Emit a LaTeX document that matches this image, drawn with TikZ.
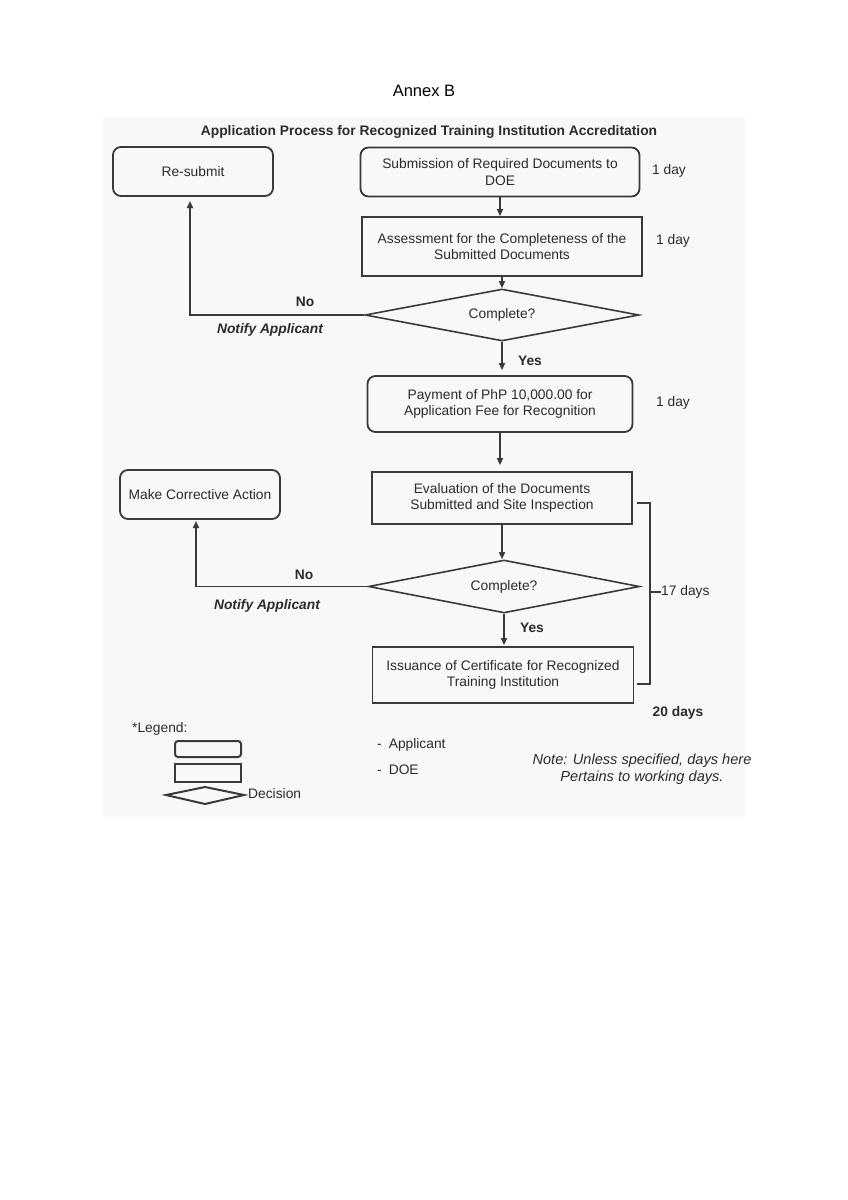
\documentclass[tikz,border=0pt]{standalone}
\usepackage{fontspec}
\setmainfont{Liberation Sans}
\usetikzlibrary{shapes.geometric,arrows.meta}
\definecolor{ink}{HTML}{2B2B2B}
\definecolor{edge}{HTML}{3A3A3A}
\definecolor{scan}{HTML}{F8F8F8}
\tikzset{
  base/.style={text=ink, align=center, font=\fontsize{13.8}{16.5}\selectfont},
  rbox/.style={base, draw=edge, line width=1.8pt, rounded corners=8pt, inner sep=0pt},
  sbox/.style={base, draw=edge, line width=1.8pt, inner sep=0pt},
  dec/.style={draw=edge, line width=1.6pt, diamond, inner sep=0pt},
  arr/.style={draw=edge, line width=1.4pt, -{Triangle[length=7pt,width=6pt]}},
  line/.style={draw=edge, line width=1.6pt},
  bl/.style={base, font=\fontsize{13.8}{16.5}\selectfont\bfseries},
  bi/.style={base, font=\fontsize{13.8}{16.5}\selectfont\bfseries\itshape},
  it/.style={base, font=\fontsize{14.6}{16.5}\selectfont\itshape},
}
\begin{document}
\begin{tikzpicture}[x=1pt,y=-1pt]
\useasboundingbox (0,0) rectangle (848,1200);
\fill[white] (0,0) rectangle (848,1200);
\fill[scan] (103,117) rectangle (745,817);

\node[base, font=\fontsize{16.5}{19}\selectfont, text=black] (annex) at (424,91) {Annex B};
\node[bl] (title) at (429,132) {Application Process for Recognized Training Institution Accreditation};

% boxes
\node[rbox, minimum width=160pt, minimum height=49pt] (resubmit) at (193,171.5) {Re-submit};
\node[rbox, minimum width=279pt, minimum height=49pt] (submit) at (500,172) {Submission of Required Documents to\\DOE};
\node[sbox, minimum width=280pt, minimum height=59pt] (assess) at (502,246.5) {Assessment for the Completeness of the\\Submitted Documents};
\node[dec, minimum width=274pt, minimum height=52pt] (dec1) at (502,315) {};
\node[base] (dec1t) at (dec1.center) {Complete?};
\node[rbox, minimum width=265pt, minimum height=56pt] (pay) at (500,404) {Payment of PhP 10,000.00 for\\Application Fee for Recognition};
\node[sbox, minimum width=260pt, minimum height=52pt] (eval) at (502,498) {Evaluation of the Documents\\Submitted and Site Inspection};
\node[rbox, minimum width=160pt, minimum height=49pt] (correct) at (200,494.5) {Make Corrective Action};
\node[dec, minimum width=271pt, minimum height=53pt] (dec2) at (504,586.5) {};
\node[base] (dec2t) at (dec2.center) {Complete?};
\node[sbox, minimum width=261pt, minimum height=56pt] (issue) at (503,675) {Issuance of Certificate for Recognized\\Training Institution};

% flow arrows
\draw[arr] (submit.south) -- (submit.south |- assess.north);
\draw[arr] (assess.south) -- (assess.south |- dec1.north);
\draw[arr, shorten >=5pt] (dec1.south) -- (dec1.south |- pay.north);
\draw[arr, shorten >=6pt] (pay.south) -- (pay.south |- eval.north);
\draw[arr] (eval.south) -- (eval.south |- dec2.north);
\draw[arr, shorten >=1pt] (dec2.south) -- (dec2.south |- issue.north);

% no branches
\coordinate (r1) at (190,196);
\coordinate (r2) at (196,519);
\draw[arr, line width=1.8pt, shorten >=5pt] (dec1.west) -| (r1);
\draw[arr, line width=1.8pt, shorten >=2pt] (dec2.west) -| (r2);

% labels
\node[bl] (no1) at (305,302) {No};
\node[bi] (na1) at (270,330) {Notify Applicant};
\node[bl] (yes1) at (530,361) {Yes};
\node[bl] (no2) at (304,575) {No};
\node[bi] (na2) at (267,606) {Notify Applicant};
\node[bl] (yes2) at (532,628) {Yes};

\node[base] (d1) at (669,171) {1 day};
\node[base] (d2) at (673,241) {1 day};
\node[base] (d3) at (673,403) {1 day};

% bracket
\coordinate (b1) at (637,503);
\coordinate (b2) at (650,503);
\coordinate (b3) at (650,684);
\coordinate (b4) at (637,684);
\coordinate (bt) at (650,592);
\draw[line] (b1) -- (b2) -- (b3) -- (b4);
\node[base, anchor=west, inner sep=0pt] (d17) at (661,592) {17 days};
\draw[line] (bt) -- (d17.west);
\node[bl] (d20) at (678,713) {20 days};

% legend
\node[base, anchor=west, inner sep=0pt] (leg) at (132,729) {*Legend:};
\draw[edge, line width=2pt, rounded corners=3pt] (175,741) rectangle (241,757);
\draw[edge, line width=2pt] (175,764) rectangle (241,782);
\draw[edge, line width=2pt] (166,795) -- (205,787) -- (244,795) -- (205,804) -- cycle;
\node[base, anchor=west, inner sep=0pt] (ldec) at (248,794) {Decision};
\node[base, anchor=west, inner sep=0pt] (lapp) at (377,745) {-\hspace{7pt}Applicant};
\node[base, anchor=west, inner sep=0pt] (ldoe) at (377,770) {-\hspace{7pt}DOE};
\node[it] (note) at (642,769) {Note: Unless specified, days here\\Pertains to working days.};
\end{tikzpicture}
\end{document}
